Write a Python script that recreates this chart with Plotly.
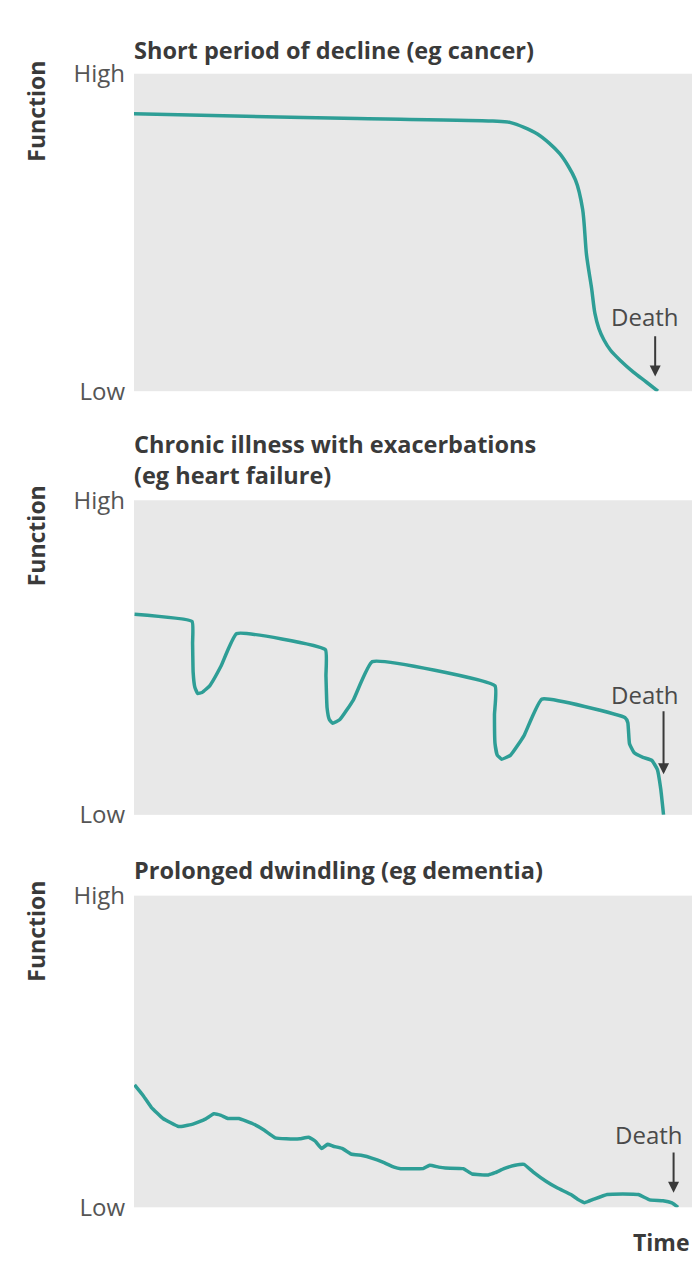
import plotly.graph_objects as go

# ---- data (time 0-100, function 0=Low .. 100=High) ----
cancer_t = [0, 20, 40, 64.3, 67.5, 72.3, 76.3, 79.1, 80.4, 81.1, 82.0, 82.6, 83.3, 84.2, 85.4, 87.2, 89.5, 91.8, 93.9]
cancer_f = [87.4, 86.6, 85.9, 85.1, 84.6, 81.0, 74.8, 66.6, 57.3, 42.9, 32.5, 24.5, 19.8, 16.2, 12.9, 9.6, 6.0, 2.9, 0.0]

heart_t = [0.1, 10.4, 10.5, 10.6, 10.9, 11.4, 12.2, 13.6, 15.6, 18.4,
           34.3, 34.4, 34.6, 35.0, 35.6, 36.9, 39.3, 42.7,
           64.7, 64.6, 64.7, 65.1, 65.9, 67.5, 69.9, 73.1,
           88.0, 88.5, 88.8, 89.6, 91.2, 92.8, 93.8, 94.4, 94.9]
heart_f = [63.8, 61.5, 54.5, 45.3, 40.6, 38.6, 38.9, 41.1, 47.3, 57.6,
           52.5, 44.2, 34.0, 30.3, 29.1, 30.3, 36.5, 48.7,
           41.0, 31.9, 22.6, 19.0, 17.7, 19.0, 25.2, 36.8,
           30.9, 29.3, 22.6, 19.8, 18.3, 17.3, 14.4, 8.2, 0.0]

dementia_t = [0.1, 1.5, 3.1, 5.2, 8.0, 10.4, 12.8, 14.3, 15.6, 16.8, 18.8, 21.2, 23.3, 25.3,
              27.3, 29.7, 31.3, 32.5, 33.6, 34.7, 35.7, 37.3, 38.9, 40.9, 42.6, 44.6, 46.6,
              47.8, 49.8, 51.8, 53.0, 54.6, 55.8, 59.0, 60.6, 63.5, 64.7, 66.3, 68.3, 69.9,
              71.5, 73.9, 75.9, 78.3, 79.5, 80.8, 82.4, 84.8, 87.6, 90.4, 92.4, 94.8, 96.4, 97.5]
dementia_f = [39.3, 36.2, 32.1, 28.5, 25.9, 26.6, 28.3, 30.0, 29.5, 28.5, 28.5, 26.9, 24.8, 22.3,
              22.0, 22.0, 22.5, 21.2, 18.9, 20.2, 19.6, 18.9, 17.1, 16.6, 15.8, 14.5, 12.9,
              12.4, 12.4, 12.4, 13.5, 12.9, 12.6, 12.4, 10.7, 10.4, 11.1, 12.4, 13.5, 13.8,
              11.4, 8.3, 6.2, 4.1, 2.6, 1.5, 2.6, 4.1, 4.3, 4.1, 2.4, 2.1, 1.4, 0.0]

titles = ["Short period of decline (eg cancer)",
          "Chronic illness with exacerbations<br>(eg heart failure)",
          "Prolonged dwindling (eg dementia)"]
y_ticks = [0, 100]
y_tick_labels = ["Low", "High"]
death_label = "Death"
# death arrow: (x, tip y, tail y, text x, text y)
death_marks = [(93.4, 4.6, 17.8, 91.6, 23.6),
               (94.9, 12.9, 33.4, 91.6, 38.1),
               (96.7, 4.7, 18.1, 92.3, 23.3)]

# ---- layout geometry (pixels) ----
W, H = 700, 1263
X0, X1 = 126, 684
panels_px = [(49, 375), (487, 810), (893, 1213)]
title_px = [25, 445, 867]
func_px = [88, 524, 930]

TEAL = "#2e9e96"
BG = "#e8e8e8"
DARK = "#3a3a3a"
GREY = "#555555"
FONT = "Open Sans"

fig = go.Figure()
series = [(cancer_t, cancer_f, 0.8), (heart_t, heart_f, 0.35), (dementia_t, dementia_f, 0.3)]
for i, (t, f, sm) in enumerate(series):
    ax = "" if i == 0 else str(i + 1)
    fig.add_trace(go.Scatter(x=t, y=f, mode="lines", xaxis="x" + ax, yaxis="y" + ax,
                             line=dict(color=TEAL, width=3.5, shape="spline", smoothing=sm),
                             cliponaxis=False, hoverinfo="skip", showlegend=False))

layout = dict(width=W, height=H, margin=dict(l=0, r=0, t=0, b=0),
              paper_bgcolor="white", plot_bgcolor=BG, showlegend=False)
annotations = []
for i, (top, bot) in enumerate(panels_px):
    ax = "" if i == 0 else str(i + 1)
    layout["xaxis" + ax] = dict(domain=[X0 / W, X1 / W], range=[0, 100], showgrid=False,
                                zeroline=False, showticklabels=False, ticks="",
                                anchor="y" + ax, fixedrange=True)
    layout["yaxis" + ax] = dict(domain=[1 - bot / H, 1 - top / H], range=[0, 100],
                                showgrid=False, zeroline=False, tickvals=y_ticks,
                                ticktext=y_tick_labels, ticks="", ticklabelstandoff=8,
                                tickfont=dict(family=FONT, size=24, color=GREY),
                                anchor="x" + ax, fixedrange=True)
    annotations.append(dict(text="<b>" + titles[i] + "</b>", xref="paper", yref="paper",
                            x=X0 / W - 0.003, y=1 - title_px[i] / H, xanchor="left",
                            yanchor="middle", showarrow=False, align="left",
                            font=dict(family=FONT, size=23.5, color=DARK)))
    annotations.append(dict(text="<b>Function</b>", xref="paper", yref="paper",
                            x=28 / W, y=1 - func_px[i] / H, xanchor="center",
                            yanchor="middle", textangle=-90, showarrow=False,
                            font=dict(family=FONT, size=23, color=DARK)))
    dx, tip, tail, tx, ty = death_marks[i]
    annotations.append(dict(x=dx, y=tip, ax=dx, ay=tail, xref="x" + ax, yref="y" + ax,
                            axref="x" + ax, ayref="y" + ax, text="", showarrow=True,
                            arrowhead=2, arrowsize=1.1, arrowwidth=2, arrowcolor=DARK))
    annotations.append(dict(x=tx, y=ty, xref="x" + ax, yref="y" + ax, text=death_label,
                            showarrow=False, xanchor="center", yanchor="middle",
                            font=dict(family=FONT, size=24, color="#4a4a4a")))

annotations.append(dict(text="<b>Time</b>", xref="paper", yref="paper", x=X1 / W,
                        y=1 - 1249 / H, xanchor="right", yanchor="middle", showarrow=False,
                        font=dict(family=FONT, size=23, color=DARK)))
layout["annotations"] = annotations
fig.update_layout(**layout)
fig.write_html("out.html")
